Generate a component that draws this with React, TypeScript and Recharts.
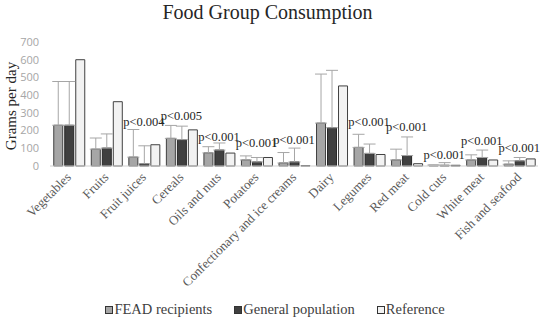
import React from "react";
import {
  BarChart, Bar, XAxis, YAxis, ErrorBar, Legend, ReferenceDot,
} from "recharts";

const categories = [
  "Vegetables", "Fruits", "Fruit juices", "Cereals", "Oils and nuts", "Potatoes",
  "Confectionary and ice creams", "Dairy", "Legumes", "Red meat", "Cold cuts",
  "White meat", "Fish and seafood",
];
const fead = [230, 95, 50, 156, 74, 34, 17, 242, 105, 34, 4, 34, 10];
const feadErr = [247, 63, 156, 73, 35, 23, 59, 277, 74, 61, 2, 29, 19];
const general = [230, 101, 13, 149, 90, 23, 23, 216, 71, 59, 4, 48, 29];
const generalErr = [247, 80, 101, 76, 40, 25, 78, 324, 53, 105, 15, 42, 19];
const reference = [600, 363, 120, 204, 73, 48, 2, 452, 65, 13, 4, 34, 40];

const pLabels = [
  { cat: "Fruit juices", text: "p<0.004", at: 206 },
  { cat: "Cereals", text: "p<0.005", at: 235 },
  { cat: "Oils and nuts", text: "p<0.001", at: 120 },
  { cat: "Potatoes", text: "p<0.001", at: 86 },
  { cat: "Confectionary and ice creams", text: "p<0.001", at: 103 },
  { cat: "Legumes", text: "p<0.001", at: 206 },
  { cat: "Red meat", text: "p<0.001", at: 177 },
  { cat: "Cold cuts", text: "p<0.001", at: 17 },
  { cat: "White meat", text: "p<0.001", at: 97 },
  { cat: "Fish and seafood", text: "p<0.001", at: 57 },
];

const yTicks = [0, 100, 200, 300, 400, 500, 600, 700];

const data = categories.map((name, i) => ({
  name,
  fead: fead[i],
  feadErr: [0, feadErr[i]],
  general: general[i],
  generalErr: [0, generalErr[i]],
  reference: reference[i],
}));

const SERIF = "'Liberation Serif', 'DejaVu Serif', serif";

const XTick = ({ x, y, payload }: any) => (
  <text x={x + 3} y={y + 4} transform={`rotate(-45, ${x + 3}, ${y + 4})`}
    textAnchor="end" fontFamily={SERIF} fontSize={13} fill="#595959">
    {payload.value}
  </text>
);

const YLabel = ({ viewBox }: any) => {
  const cx = viewBox.x + 11;
  const cy = viewBox.y + viewBox.height / 2 + 2;
  return (
    <text x={cx} y={cy} transform={`rotate(-90, ${cx}, ${cy})`} textAnchor="middle"
      dominantBaseline="central" fontFamily={SERIF} fontSize={15} fill="#262626">
      Grams per day
    </text>
  );
};

const LegendContent = ({ payload }: any) => (
  <div style={{ display: "flex", justifyContent: "center", gap: 22, fontFamily: SERIF, fontSize: 14.5, color: "#404040" }}>
    {payload.map((p: any) => (
      <div key={p.value} style={{ display: "flex", alignItems: "center" }}>
        <span style={{ width: 6, height: 6, background: p.color, border: "1px solid #333", marginRight: 1 }} />
        <span>{p.value}</span>
      </div>
    ))}
  </div>
);

export default function App() {
  return (
    <div style={{ position: "absolute", left: 0, top: 0, width: 550, height: 326, background: "#fff", fontFamily: SERIF }}>
      <div style={{ position: "absolute", left: 0, top: 1, width: 535, textAlign: "center", fontFamily: SERIF, fontSize: 20, color: "#262626" }}>
        Food Group Consumption
      </div>
      <BarChart width={550} height={326} data={data}
        margin={{ top: 42, right: 12, left: 0, bottom: 0 }}
        barCategoryGap="10%" barGap={2}>
        <XAxis dataKey="name" interval={0} tick={<XTick />} tickLine={false}
          axisLine={{ stroke: "#d0d0d0" }} height={132} />
        <YAxis domain={[0, 700]} ticks={yTicks} interval={0} width={50} axisLine={false} tickLine={false}
          tickMargin={5}
          tick={{ fontSize: 11, fill: "#a6a6a6", fontFamily: "'Open Sans', sans-serif" }}
          label={<YLabel />} />
        <Legend verticalAlign="bottom" height={28} content={<LegendContent />}
          wrapperStyle={{ left: 0, width: 550, top: 301 }} />
        <Bar dataKey="fead" name="FEAD recipients" fill="#a6a6a6" stroke="#404040" strokeWidth={1} isAnimationActive={false}>
          <ErrorBar dataKey="feadErr" stroke="#a6a6a6" width={6} strokeWidth={1} />
        </Bar>
        <Bar dataKey="general" name="General population" fill="#404040" stroke="#262626" strokeWidth={1} isAnimationActive={false}>
          <ErrorBar dataKey="generalErr" stroke="#a6a6a6" width={6} strokeWidth={1} />
        </Bar>
        <Bar dataKey="reference" name="Reference" fill="#f2f2f2" stroke="#404040" strokeWidth={1} isAnimationActive={false} />
        {pLabels.map((p) => (
          <ReferenceDot key={p.cat} x={p.cat} y={p.at} r={0} stroke="none" fill="none"
            label={{ value: p.text, position: "top", offset: 4, fontSize: 12.5, fill: "#262626", style: { fontFamily: SERIF } }} />
        ))}
      </BarChart>
    </div>
  );
}
